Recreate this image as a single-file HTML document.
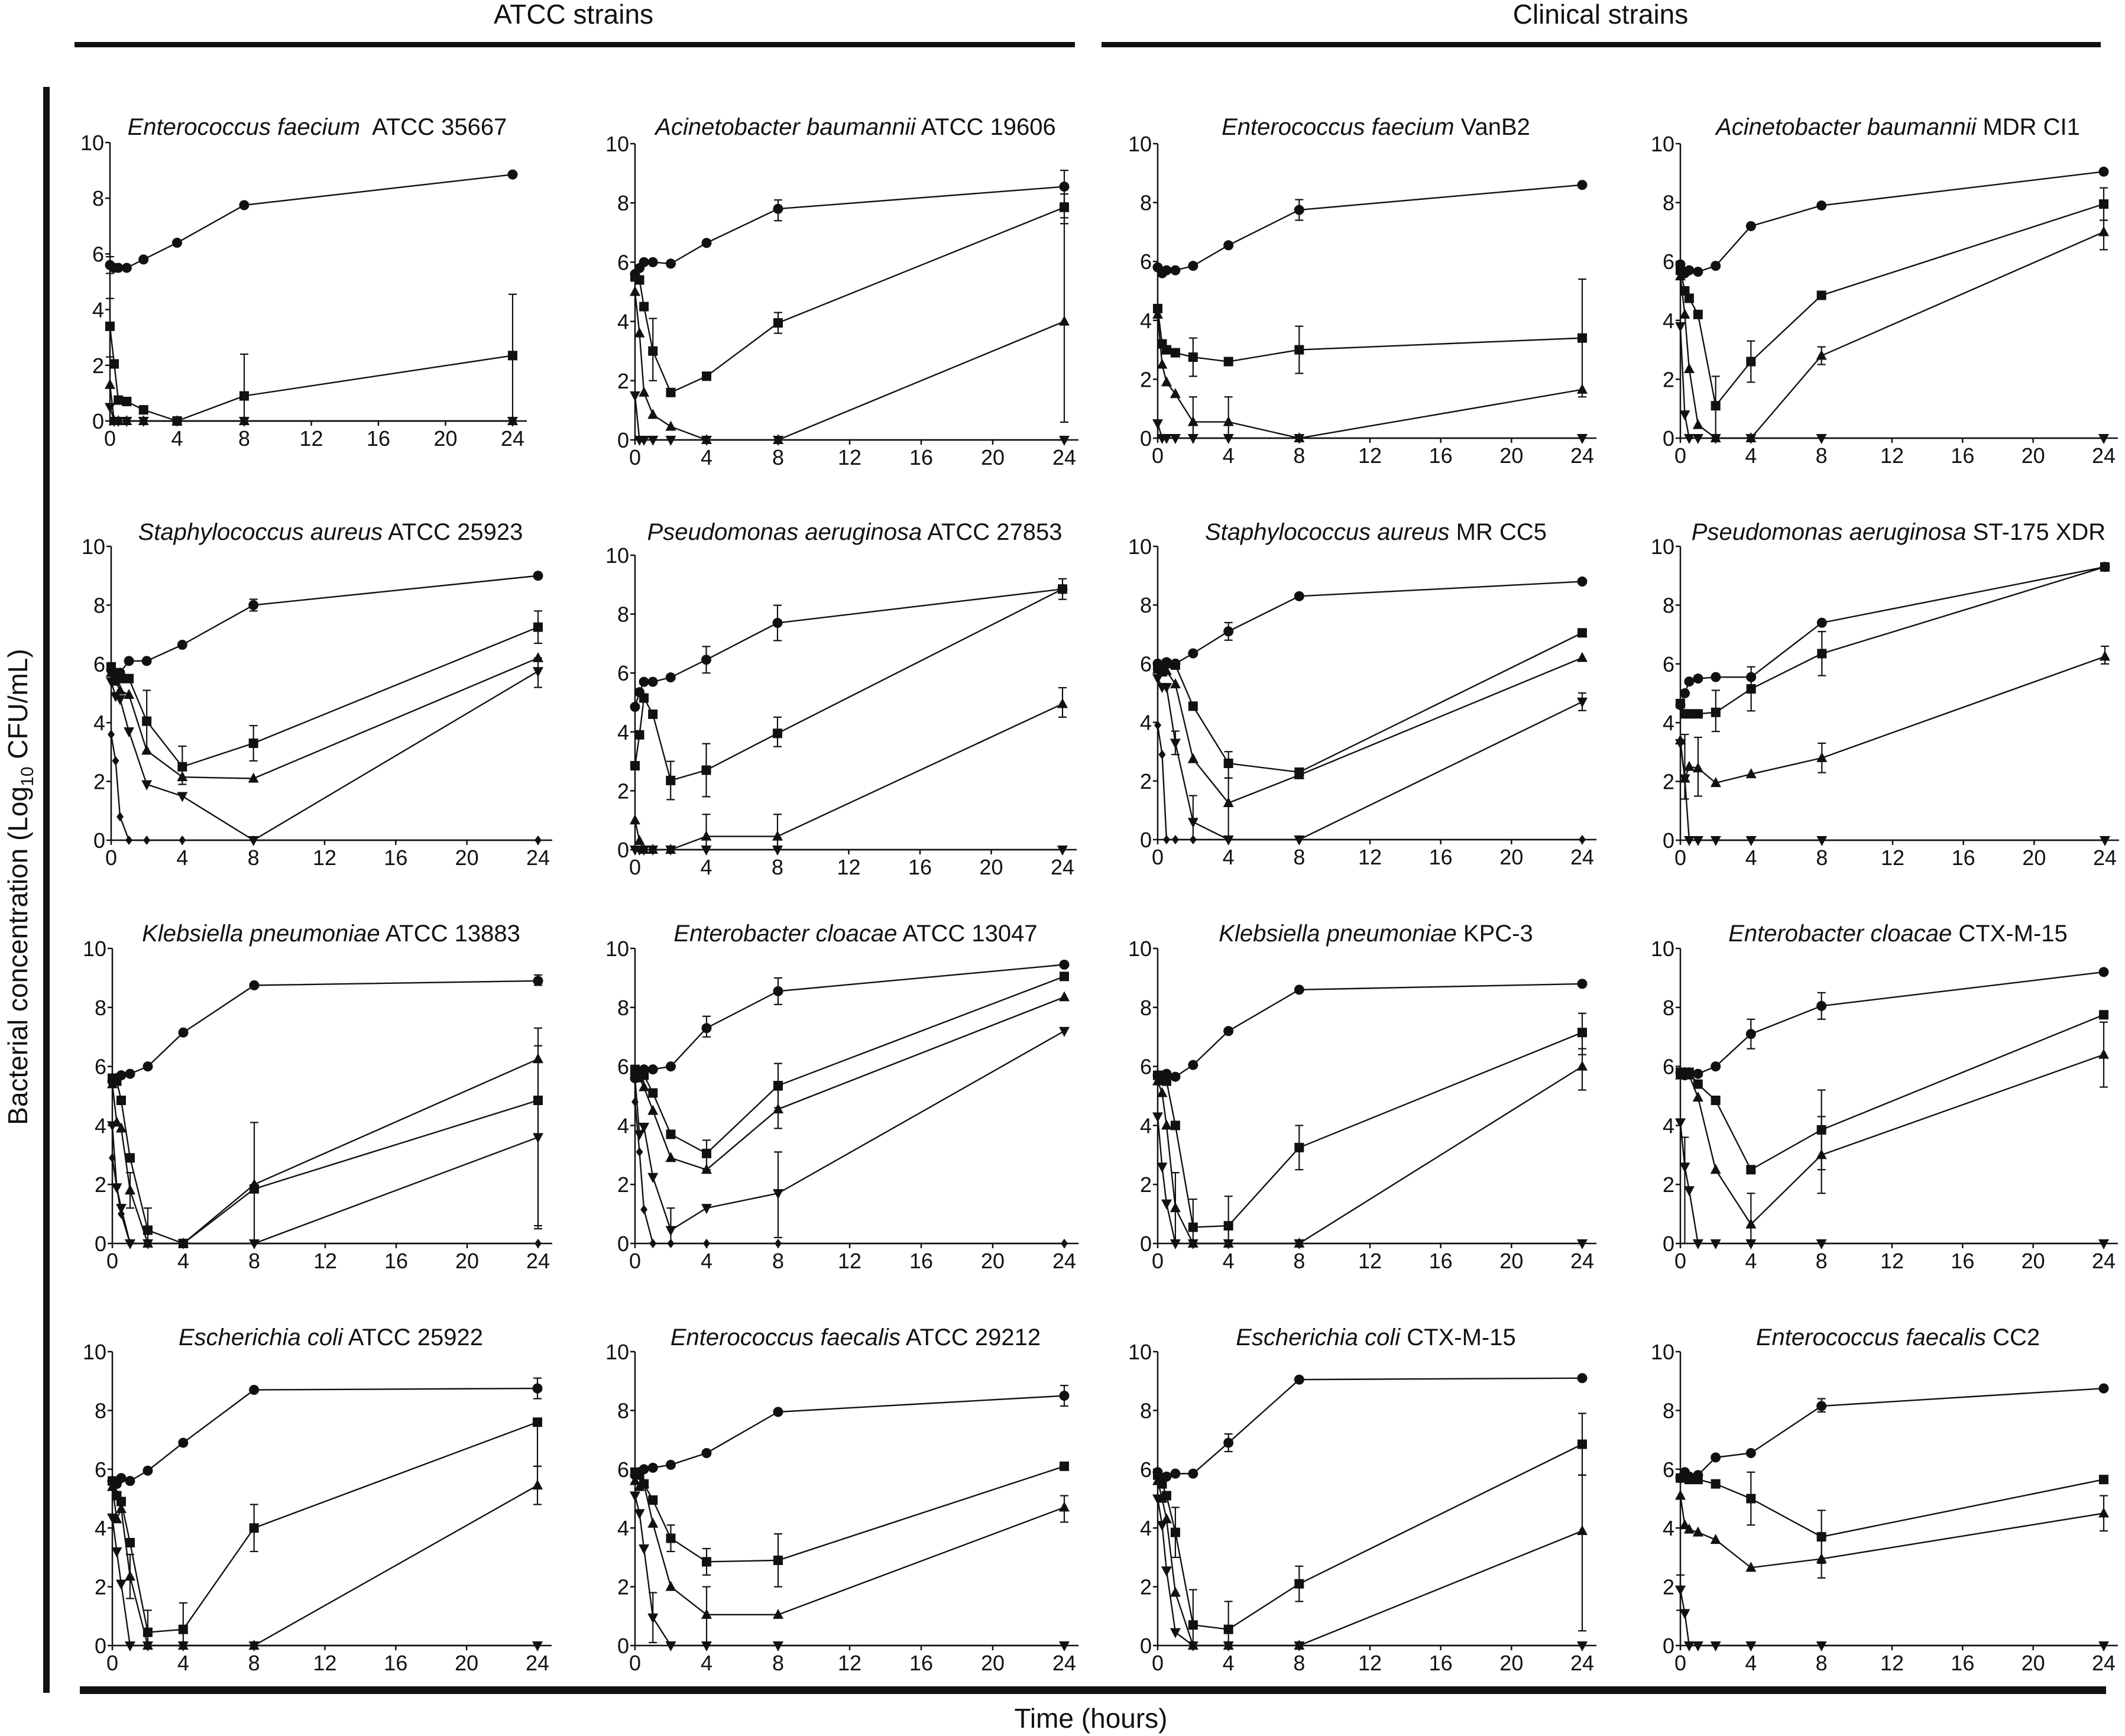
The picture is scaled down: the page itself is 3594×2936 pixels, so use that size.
<!DOCTYPE html>
<html><head><meta charset="utf-8"><style>
html,body{margin:0;padding:0;background:#fff;}
svg{display:block;}
text{font-family:"Liberation Sans",Arial,sans-serif;fill:#111;}
</style></head><body>
<svg id="fig" xmlns="http://www.w3.org/2000/svg" width="3594" height="2936" viewBox="0 0 3594 2936">
<rect width="3594" height="2936" fill="#fff"/>
<text x="970" y="40" font-size="46" text-anchor="middle">ATCC strains</text>
<rect x="126" y="71" width="1692" height="9" fill="#111"/>
<text x="2707" y="40" font-size="46" text-anchor="middle">Clinical strains</text>
<rect x="1863" y="71" width="1690" height="9" fill="#111"/>
<rect x="73" y="147" width="11" height="2716" fill="#111"/>
<rect x="135" y="2852" width="3427" height="13" fill="#111"/>
<text transform="translate(46,1500) rotate(-90)" font-size="46" text-anchor="middle">Bacterial concentration (Log<tspan font-size="30" dy="10">10</tspan><tspan dy="-10"> CFU/mL)</tspan></text>
<text x="1845" y="2922" font-size="46" text-anchor="middle">Time (hours)</text>
<g id="panels"></g>
</svg>
<script>
// Sampling times (hours)
const times = [0, 0.25, 0.5, 1, 2, 4, 8, 24];
const xTicks = [0, 4, 8, 12, 16, 20, 24];
const yTicks = [0, 2, 4, 6, 8, 10];

// Panel 1: Enterococcus faecium ATCC 35667
const p1_circle = [5.6, 5.5, 5.5, 5.5, 5.8, 6.4, 7.75, 8.85];
const p1_square = [3.4, 2.05, 0.75, 0.7, 0.4, 0, 0.9, 2.35];
const p1_up = [1.3, 0, 0, 0, 0, 0, 0, 0];
const p1_down = [0.5, 0, 0, 0, 0, 0, 0, 0];
// Panel 2: Acinetobacter baumannii ATCC 19606
const p2_circle = [5.6, 5.8, 6.0, 6.0, 5.95, 6.65, 7.8, 8.55];
const p2_square = [5.5, 5.4, 4.5, 3.0, 1.6, 2.15, 3.95, 7.85];
const p2_up = [5.0, 3.6, 1.6, 0.85, 0.45, 0, 0, 4.0];
const p2_down = [1.5, 0, 0, 0, 0, 0, 0, 0];
// Panel 3: Enterococcus faecium VanB2
const p3_circle = [5.8, 5.6, 5.7, 5.7, 5.85, 6.55, 7.75, 8.6];
const p3_square = [4.4, 3.2, 3.0, 2.9, 2.75, 2.6, 3.0, 3.4];
const p3_up = [4.2, 2.5, 1.9, 1.5, 0.55, 0.55, 0, 1.65];
const p3_down = [0.5, 0, 0, 0, 0, 0, 0, 0];
// Panel 4: Acinetobacter baumannii MDR CI1
const p4_circle = [5.9, 5.6, 5.7, 5.65, 5.85, 7.2, 7.9, 9.05];
const p4_square = [5.7, 5.0, 4.75, 4.2, 1.1, 2.6, 4.85, 7.95];
const p4_up = [5.5, 4.2, 2.35, 0.45, 0, 0, 2.8, 7.0];
const p4_down = [3.8, 0.8, 0, 0, 0, 0, 0, 0];
// Panel 5: Staphylococcus aureus ATCC 25923
const p5_circle = [5.8, 5.7, 5.7, 6.1, 6.1, 6.65, 8.0, 9.0];
const p5_square = [5.9, 5.6, 5.5, 5.5, 4.05, 2.5, 3.3, 7.25];
const p5_up = [5.7, 5.4, 5.1, 4.95, 3.05, 2.15, 2.1, 6.2];
const p5_down = [5.4, 4.9, 4.8, 3.7, 1.9, 1.5, 0, 5.75];
const p5_diamond = [3.6, 2.7, 0.8, 0, 0, 0, 0, 0];
// Panel 6: Pseudomonas aeruginosa ATCC 27853
const p6_circle = [4.85, 5.35, 5.7, 5.7, 5.85, 6.45, 7.7, 8.85];
const p6_square = [2.85, 3.9, 5.15, 4.6, 2.35, 2.7, 3.95, 8.85];
const p6_up = [1.0, 0.3, 0, 0, 0, 0.45, 0.45, 4.95];
const p6_down = [0, 0, 0, 0, 0, 0, 0, 0];
// Panel 7: Staphylococcus aureus MR CC5
const p7_circle = [6.0, 5.9, 6.05, 6.0, 6.35, 7.1, 8.3, 8.8];
const p7_square = [5.9, 5.9, 6.0, 5.95, 4.55, 2.6, 2.3, 7.05];
const p7_up = [5.8, 5.7, 5.75, 5.3, 2.75, 1.25, 2.2, 6.2];
const p7_down = [5.5, 5.2, 5.2, 3.3, 0.6, 0, 0, 4.7];
const p7_diamond = [3.9, 2.9, 0, 0, 0, 0, 0, 0];
// Panel 8: Pseudomonas aeruginosa ST-175 XDR
const p8_circle = [4.6, 5.0, 5.4, 5.5, 5.55, 5.55, 7.4, 9.3];
const p8_square = [4.65, 4.3, 4.3, 4.3, 4.35, 5.15, 6.35, 9.3];
const p8_up = [3.4, 2.1, 2.5, 2.45, 1.95, 2.25, 2.8, 6.25];
const p8_down = [3.3, 2.1, 0, 0, 0, 0, 0, 0];
// Panel 9: Klebsiella pneumoniae ATCC 13883
const p9_circle = [5.5, 5.6, 5.7, 5.75, 6.0, 7.15, 8.75, 8.9];
const p9_square = [5.6, 5.5, 4.85, 2.9, 0.45, 0, 1.85, 4.85];
const p9_up = [5.4, 4.1, 3.9, 1.8, 0, 0, 2.0, 6.25];
const p9_down = [4.0, 1.9, 1.2, 0, 0, 0, 0, 3.6];
const p9_diamond = [2.9, 1.9, 1.0, 0, 0, 0, 0, 0];
// Panel 10: Enterobacter cloacae ATCC 13047
const p10_circle = [5.6, 5.8, 5.9, 5.9, 6.0, 7.3, 8.55, 9.45];
const p10_square = [5.9, 5.8, 5.7, 5.1, 3.7, 3.05, 5.35, 9.05];
const p10_up = [5.7, 5.6, 5.3, 4.5, 2.9, 2.5, 4.55, 8.35];
const p10_down = [5.6, 3.7, 3.95, 2.25, 0.45, 1.2, 1.7, 7.2];
const p10_diamond = [4.8, 3.1, 1.15, 0, 0, 0, 0, 0];
// Panel 11: Klebsiella pneumoniae KPC-3
const p11_circle = [5.7, 5.6, 5.75, 5.65, 6.05, 7.2, 8.6, 8.8];
const p11_square = [5.7, 5.7, 5.5, 4.0, 0.55, 0.6, 3.25, 7.15];
const p11_up = [5.5, 5.1, 4.0, 1.2, 0, 0, 0, 6.0];
const p11_down = [4.3, 2.6, 1.35, 0, 0, 0, 0, 0];
// Panel 12: Enterobacter cloacae CTX-M-15
const p12_circle = [5.8, 5.7, 5.8, 5.75, 6.0, 7.1, 8.05, 9.2];
const p12_square = [5.8, 5.8, 5.8, 5.4, 4.85, 2.5, 3.85, 7.75];
const p12_up = [5.7, 5.8, 5.7, 4.95, 2.5, 0.65, 3.0, 6.4];
const p12_down = [4.1, 2.6, 1.8, 0, 0, 0, 0, 0];
// Panel 13: Escherichia coli ATCC 25922
const p13_circle = [5.6, 5.5, 5.7, 5.6, 5.95, 6.9, 8.7, 8.75];
const p13_square = [5.6, 5.1, 4.9, 3.5, 0.45, 0.55, 4.0, 7.6];
const p13_up = [5.4, 4.3, 4.65, 2.35, 0, 0, 0, 5.45];
const p13_down = [4.35, 3.2, 2.1, 0, 0, 0, 0, 0];
// Panel 14: Enterococcus faecalis ATCC 29212
const p14_circle = [5.8, 5.9, 6.0, 6.05, 6.15, 6.55, 7.95, 8.5];
const p14_square = [5.9, 5.8, 5.5, 4.95, 3.65, 2.85, 2.9, 6.1];
const p14_up = [5.6, 5.4, 5.5, 4.15, 2.0, 1.05, 1.05, 4.7];
const p14_down = [5.1, 4.5, 3.3, 0.95, 0, 0, 0, 0];
// Panel 15: Escherichia coli CTX-M-15
const p15_circle = [5.9, 5.7, 5.75, 5.85, 5.85, 6.9, 9.05, 9.1];
const p15_square = [5.8, 5.5, 5.1, 3.85, 0.7, 0.55, 2.1, 6.85];
const p15_up = [5.6, 5.0, 4.3, 1.8, 0, 0, 0, 3.9];
const p15_down = [5.0, 4.1, 2.55, 0.45, 0, 0, 0, 0];
// Panel 16: Enterococcus faecalis CC2
const p16_circle = [5.7, 5.9, 5.75, 5.8, 6.4, 6.55, 8.15, 8.75];
const p16_square = [5.7, 5.8, 5.65, 5.65, 5.5, 5.0, 3.7, 5.65];
const p16_up = [5.1, 4.1, 3.95, 3.85, 3.6, 2.65, 2.95, 4.5];
const p16_down = [1.9, 1.1, 0, 0, 0, 0, 0, 0];

// Selected error bars: [series, time index, low, high]
const p1_err = [["square",6,0,2.4],["square",7,0,4.55],["circle",0,5.3,5.9],["square",0,2.3,4.4]];
const p2_err = [["circle",7,8.0,9.1],["square",7,7.3,8.3],["up",7,0.6,7.5],["square",6,3.6,4.3],["circle",6,7.4,8.1],["square",3,2,4.1]];
const p3_err = [["square",7,1.4,5.4],["square",6,2.2,3.8],["up",4,0,1.4],["up",5,0,1.4],["square",4,2.1,3.4],["circle",6,7.4,8.1]];
const p4_err = [["square",7,7.4,8.5],["up",7,6.4,7.4],["square",5,1.9,3.3],["square",4,0,2.1],["up",6,2.5,3.1]];
const p5_err = [["square",7,6.7,7.8],["down",7,5.2,6.2],["square",4,3,5.1],["square",5,1.9,3.2],["square",6,2.7,3.9],["circle",6,7.8,8.2]];
const p6_err = [["circle",6,7.1,8.3],["circle",5,6,6.9],["square",5,1.8,3.6],["square",4,1.7,3],["square",6,3.5,4.5],["up",5,0,1.2],["up",6,0,1.2],["up",7,4.5,5.5],["square",7,8.5,9.2]];
const p7_err = [["up",5,0,2.1],["down",4,0,1.5],["down",7,4.4,5.0],["square",5,2.1,3.0],["down",3,2.9,3.7],["circle",5,6.8,7.4]];
const p8_err = [["square",6,5.6,7.1],["square",5,4.4,5.9],["square",4,3.7,5.1],["up",3,1.5,3.5],["up",1,1.4,3.6],["up",6,2.3,3.3],["up",7,6.0,6.6]];
const p9_err = [["square",6,0,4.1],["up",7,0.5,7.3],["square",7,0.6,6.7],["circle",7,8.75,9.1],["square",4,0,1.2],["up",3,1.2,2.4]];
const p10_err = [["down",6,0.2,3.1],["square",6,4.6,6.1],["up",6,3.9,5.2],["circle",6,8.1,9.0],["circle",5,7.0,7.7],["square",5,2.5,3.5],["down",4,0,1.2]];
const p11_err = [["square",7,6.4,7.8],["up",7,5.2,6.6],["square",6,2.5,4.0],["square",5,0,1.6],["square",4,0,1.5],["up",3,0,2.4]];
const p12_err = [["up",6,1.7,4.3],["square",6,2.5,5.2],["up",7,5.3,7.5],["up",5,0,1.7],["circle",5,6.6,7.6],["circle",6,7.6,8.5],["down",1,0,3.6]];
const p13_err = [["square",6,3.2,4.8],["circle",7,8.4,9.1],["up",7,4.8,6.1],["square",7,6.1,7.6],["square",5,0,1.45],["square",4,0,1.2],["up",3,1.6,3.1]];
const p14_err = [["square",6,2,3.8],["up",5,0,2],["square",5,2.4,3.3],["up",7,4.2,5.1],["circle",7,8.15,8.85],["down",3,0.1,1.8],["square",4,3.2,4.1]];
const p15_err = [["square",7,5.8,7.9],["up",7,0.5,5.8],["square",6,1.5,2.7],["square",5,0,1.5],["square",4,0,1.9],["circle",5,6.6,7.2],["square",3,3,4.7]];
const p16_err = [["square",5,4.1,5.9],["square",6,2.8,4.6],["up",6,2.3,3.6],["up",7,3.9,5.1],["down",0,1.2,2.4],["circle",6,7.95,8.4]];

const titlesItalic = ["Enterococcus faecium","Acinetobacter baumannii","Enterococcus faecium","Acinetobacter baumannii","Staphylococcus aureus","Pseudomonas aeruginosa","Staphylococcus aureus","Pseudomonas aeruginosa","Klebsiella pneumoniae","Enterobacter cloacae","Klebsiella pneumoniae","Enterobacter cloacae","Escherichia coli","Enterococcus faecalis","Escherichia coli","Enterococcus faecalis"];
const titlesPlain = ["  ATCC 35667"," ATCC 19606"," VanB2"," MDR CI1"," ATCC 25923"," ATCC 27853"," MR CC5"," ST-175 XDR"," ATCC 13883"," ATCC 13047"," KPC-3"," CTX-M-15"," ATCC 25922"," ATCC 29212"," CTX-M-15"," CC2"];

const seriesData = [
 {circle:p1_circle,square:p1_square,up:p1_up,down:p1_down},
 {circle:p2_circle,square:p2_square,up:p2_up,down:p2_down},
 {circle:p3_circle,square:p3_square,up:p3_up,down:p3_down},
 {circle:p4_circle,square:p4_square,up:p4_up,down:p4_down},
 {circle:p5_circle,square:p5_square,up:p5_up,down:p5_down,diamond:p5_diamond},
 {circle:p6_circle,square:p6_square,up:p6_up,down:p6_down},
 {circle:p7_circle,square:p7_square,up:p7_up,down:p7_down,diamond:p7_diamond},
 {circle:p8_circle,square:p8_square,up:p8_up,down:p8_down},
 {circle:p9_circle,square:p9_square,up:p9_up,down:p9_down,diamond:p9_diamond},
 {circle:p10_circle,square:p10_square,up:p10_up,down:p10_down,diamond:p10_diamond},
 {circle:p11_circle,square:p11_square,up:p11_up,down:p11_down},
 {circle:p12_circle,square:p12_square,up:p12_up,down:p12_down},
 {circle:p13_circle,square:p13_square,up:p13_up,down:p13_down},
 {circle:p14_circle,square:p14_square,up:p14_up,down:p14_down},
 {circle:p15_circle,square:p15_square,up:p15_up,down:p15_down},
 {circle:p16_circle,square:p16_square,up:p16_up,down:p16_down}
];
const errData = [p1_err,p2_err,p3_err,p4_err,p5_err,p6_err,p7_err,p8_err,p9_err,p10_err,p11_err,p12_err,p13_err,p14_err,p15_err,p16_err];

// Layout geometry (pixels): x0, x24, yTop(10), yBottom(0), title baseline
const geom = [
 [186,867,241,712,228],[1074,1800,243,744,228],[1958,2676,243,741,228],[2842,3558,243,741,228],
 [188,910,924,1421,913],[1074,1797,939,1437,913],[1958,2676,924,1420,913],[2842,3560,924,1421,913],
 [190,910,1604,2103,1592],[1074,1800,1604,2103,1592],[1958,2676,1604,2103,1592],[2842,3558,1604,2103,1592],
 [190,909,2286,2783,2275],[1074,1800,2286,2783,2275],[1958,2676,2286,2783,2275],[2842,3558,2286,2783,2275]
];

const NS = "http://www.w3.org/2000/svg";
const root = document.getElementById("panels");
function mk(tag, attrs, parent){
  const e = document.createElementNS(NS, tag);
  for (const k in attrs) e.setAttribute(k, attrs[k]);
  parent.appendChild(e);
  return e;
}
function marker(kind, cx, cy, g){
  let e;
  if (kind === "circle") e = mk("circle",{cx:cx,cy:cy,r:8.5,fill:"#111"},g);
  else if (kind === "square") e = mk("rect",{x:cx-8,y:cy-8,width:16,height:16,fill:"#111"},g);
  else if (kind === "up") e = mk("polygon",{points:`${cx},${cy-10} ${cx+9},${cy+7} ${cx-9},${cy+7}`,fill:"#111"},g);
  else if (kind === "down") e = mk("polygon",{points:`${cx},${cy+10} ${cx+9},${cy-7} ${cx-9},${cy-7}`,fill:"#111"},g);
  else e = mk("polygon",{points:`${cx},${cy-8} ${cx+6},${cy} ${cx},${cy+8} ${cx-6},${cy}`,fill:"#111"},g);
  return e;
}
const order = ["diamond","down","up","square","circle"];

geom.forEach((gm, i) => {
  const [x0, x24, yT, yB, tb] = gm;
  const xs = t => x0 + (x24 - x0) * t / 24;
  const ys = v => yB - (yB - yT) * v / 10;
  const g = mk("g", {}, root);
  
  

  // title
  const tt = mk("text",{x:(x0+x24)/2 + 10, y:tb, "font-size":40, "text-anchor":"middle", "xml:space":"preserve"}, g);
  
  
  const ti = mk("tspan",{"font-style":"italic"},tt); ti.textContent = titlesItalic[i];
  const tp = mk("tspan",{},tt); tp.textContent = titlesPlain[i];
  tt.setAttribute("style","white-space:pre");

  // axes
  const ax = mk("g",{stroke:"#111","stroke-width":2.5,fill:"none"},g);
  
  
  mk("line",{x1:x0,y1:yT,x2:x0,y2:yB},ax);
  mk("line",{x1:x0,y1:yB,x2:x24+24,y2:yB},ax);
  yTicks.forEach(v => {
    mk("line",{x1:x0-8,y1:ys(v),x2:x0,y2:ys(v)},ax);
    const lb = mk("text",{x:x0-10,y:ys(v)+13,"font-size":36,"text-anchor":"end"},g);
    
    
    lb.textContent = v;
  });
  xTicks.forEach(t => {
    mk("line",{x1:xs(t),y1:yB,x2:xs(t),y2:yB+8},ax);
    const lb = mk("text",{x:xs(t),y:yB+42,"font-size":36,"text-anchor":"middle"},g);
    
    
    lb.textContent = t;
  });

  const sd = seriesData[i];
  // error bars
  const eg = mk("g",{stroke:"#111","stroke-width":2.2},g);
  
  
  errData[i].forEach(e => {
    const [s, ti2, lo, hi] = e;
    const x = xs(times[ti2]);
    mk("line",{x1:x,y1:ys(lo),x2:x,y2:ys(hi)},eg);
    mk("line",{x1:x-7,y1:ys(lo),x2:x+7,y2:ys(lo)},eg);
    mk("line",{x1:x-7,y1:ys(hi),x2:x+7,y2:ys(hi)},eg);
  });
  // lines then markers
  order.forEach(k => {
    if (!sd[k]) return;
    const pts = sd[k].map((v,j) => xs(times[j]) + "," + ys(v)).join(" ");
    const pl = mk("polyline",{points:pts,fill:"none",stroke:"#111","stroke-width":2.4},g);
    
    
  });
  order.forEach(k => {
    if (!sd[k]) return;
    sd[k].forEach((v,j) => {
      const m = marker(k, xs(times[j]), ys(v), g);
      
      
    });
  });
});
</script>
</body></html>
